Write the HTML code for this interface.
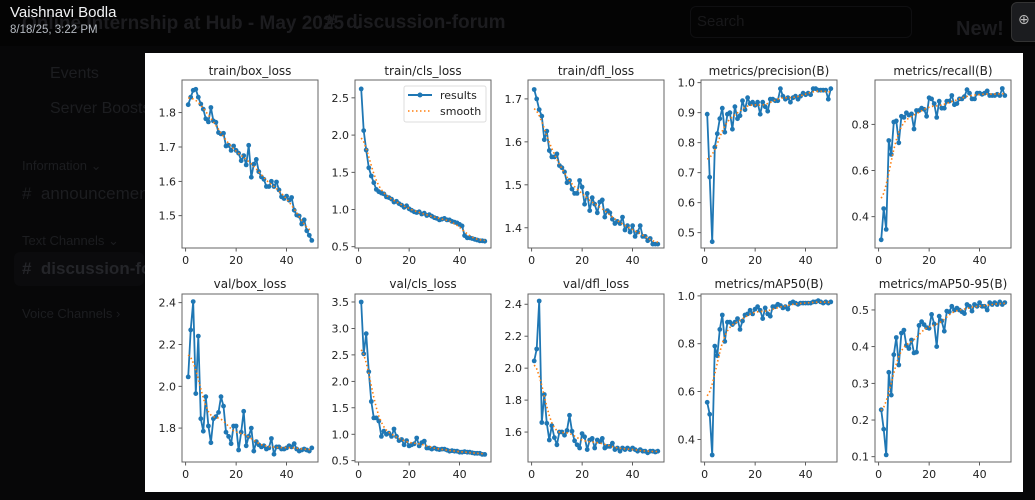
<!DOCTYPE html>
<html><head><meta charset="utf-8"><style>
html,body{margin:0;padding:0;width:1035px;height:500px;overflow:hidden;background:#070708;font-family:"Liberation Sans","DejaVu Sans",sans-serif;}
.abs{position:absolute;white-space:nowrap}
.f{color:#1c1d20}
</style></head><body>
<div class="abs" style="left:0;top:0;width:1035px;height:46px;background:#040404"></div>
<div class="abs f" style="left:22px;top:12px;font-size:19px;font-weight:bold;color:#1c1c1f">Online Internship at Hub - May 2025 ⌄</div>
<div class="abs f" style="left:325px;top:12px;font-size:19px;font-weight:bold;color:#1c1c1f"># &nbsp;discussion-forum</div>
<div class="abs f" style="left:697px;top:13px;font-size:15px;color:#18181a">Search</div>
<div class="abs" style="left:690px;top:6px;width:220px;height:30px;border:1px solid #0f0f11;border-radius:6px"></div>
<div class="abs f" style="left:956px;top:18px;font-size:20px;font-weight:bold;color:#1c1c1f">New!</div>
<div class="abs" style="left:1011px;top:2px;width:30px;height:38px;background:#1b1c1f;border:1px solid #333;border-radius:6px"></div>
<div class="abs" style="left:1018px;top:11px;color:#bbb;font-size:14px">⊕</div>
<div class="abs f" style="left:50px;top:65px;font-size:16px">Events</div>
<div class="abs f" style="left:50px;top:100px;font-size:16px">Server Boosts</div>
<div class="abs f" style="left:22px;top:158px;font-size:13px">Information ⌄</div>
<div class="abs f" style="left:22px;top:184px;font-size:17px">#&nbsp; announcements</div>
<div class="abs f" style="left:22px;top:233px;font-size:13px">Text Channels ⌄</div>
<div class="abs" style="left:14px;top:252px;width:130px;height:34px;background:#0b0b0d;border-radius:6px"></div>
<div class="abs f" style="left:22px;top:259px;font-size:17px;font-weight:bold;color:#242529">#&nbsp; discussion-forum</div>
<div class="abs f" style="left:22px;top:306px;font-size:13px">Voice Channels ›</div>
<div class="abs" style="left:10px;top:4px;font-size:15px;color:#f2f3f5">Vaishnavi Bodla</div>
<div class="abs" style="left:10px;top:24px;font-size:11.5px;color:#b5bac1">8/18/25, 3:22 PM</div>
<div class="abs" style="left:145px;top:53px;width:878px;height:439px;background:#fff"></div>
<svg class="abs" style="left:0;top:0" width="1035" height="500" id="s" font-family="DejaVu Sans, Liberation Sans, sans-serif">
<g font-size="12" fill="#222" text-anchor="middle">
<text x="250" y="75">train/box_loss</text>
<text x="423" y="75">train/cls_loss</text>
<text x="596" y="75">train/dfl_loss</text>
<text x="769" y="75">metrics/precision(B)</text>
<text x="943" y="75">metrics/recall(B)</text>
<text x="250" y="288">val/box_loss</text>
<text x="423" y="288">val/cls_loss</text>
<text x="596" y="288">val/dfl_loss</text>
<text x="769" y="288">metrics/mAP50(B)</text>
<text x="943" y="288">metrics/mAP50-95(B)</text>
</g>
<g id="g"></g>
<g font-size="11" fill="#222">
<rect x="404" y="86" width="82" height="36" fill="#fff" stroke="#ddd" rx="2"/>
<line x1="408" y1="95" x2="432" y2="95" stroke="#1f77b4" stroke-width="2"/><circle cx="420" cy="95" r="2.5" fill="#1f77b4"/>
<line x1="408" y1="111" x2="432" y2="111" stroke="#ff7f0e" stroke-width="1.6" stroke-dasharray="1.5,2.5"/>
<text x="440" y="99">results</text><text x="440" y="115">smooth</text>
</g>
</svg>
<script>
var P=[
{x:182,y:80,mn:1.406,mx:1.895,t:[[1.8,"1.8"],[1.7,"1.7"],[1.6,"1.6"],[1.5,"1.5"]],d:[1.823,1.845,1.865,1.868,1.845,1.825,1.81,1.782,1.773,1.815,1.776,1.772,1.742,1.738,1.74,1.703,1.705,1.69,1.703,1.69,1.682,1.66,1.675,1.648,1.705,1.612,1.65,1.664,1.628,1.613,1.606,1.585,1.585,1.6,1.585,1.598,1.575,1.555,1.55,1.557,1.545,1.553,1.516,1.502,1.499,1.476,1.488,1.456,1.443,1.428]},
{x:355,y:80,mn:0.483,mx:2.74,t:[[2.5,"2.5"],[2.0,"2.0"],[1.5,"1.5"],[1.0,"1.0"],[0.5,"0.5"]],d:[2.62,2.06,1.8,1.56,1.45,1.36,1.27,1.24,1.22,1.21,1.17,1.16,1.14,1.1,1.11,1.08,1.06,1.03,1.05,1.01,0.99,0.97,0.96,0.97,0.94,0.95,0.92,0.93,0.91,0.89,0.88,0.86,0.87,0.88,0.86,0.86,0.84,0.83,0.82,0.80,0.78,0.65,0.62,0.62,0.61,0.6,0.59,0.58,0.58,0.575]},
{x:528,y:80,mn:1.353,mx:1.744,t:[[1.7,"1.7"],[1.6,"1.6"],[1.5,"1.5"],[1.4,"1.4"]],d:[1.722,1.70,1.675,1.66,1.605,1.625,1.58,1.565,1.565,1.572,1.545,1.54,1.53,1.505,1.51,1.49,1.48,1.48,1.51,1.495,1.455,1.48,1.44,1.47,1.455,1.435,1.46,1.465,1.425,1.44,1.435,1.42,1.41,1.415,1.41,1.425,1.395,1.405,1.39,1.405,1.38,1.39,1.405,1.38,1.38,1.37,1.375,1.362,1.362,1.362]},
{x:701,y:80,mn:0.449,mx:1.009,t:[[1.0,"1.0"],[0.9,"0.9"],[0.8,"0.8"],[0.7,"0.7"],[0.6,"0.6"],[0.5,"0.5"]],d:[0.895,0.685,0.47,0.785,0.83,0.88,0.915,0.835,0.895,0.9,0.845,0.92,0.88,0.89,0.94,0.91,0.95,0.93,0.935,0.925,0.935,0.895,0.935,0.92,0.905,0.945,0.945,0.94,0.94,0.98,0.955,0.945,0.95,0.935,0.95,0.955,0.945,0.955,0.965,0.96,0.965,0.96,0.98,0.98,0.975,0.975,0.975,0.975,0.945,0.98]},
{x:875,y:80,mn:0.2645,mx:0.992,t:[[0.8,"0.8"],[0.6,"0.6"],[0.4,"0.4"]],d:[0.30,0.435,0.345,0.73,0.67,0.81,0.815,0.72,0.835,0.83,0.85,0.84,0.845,0.78,0.86,0.86,0.87,0.865,0.835,0.915,0.91,0.89,0.83,0.9,0.87,0.87,0.9,0.9,0.925,0.885,0.89,0.91,0.91,0.92,0.95,0.935,0.91,0.91,0.935,0.935,0.93,0.935,0.945,0.925,0.925,0.925,0.93,0.925,0.955,0.925]},
{x:182,y:294,mn:1.6376,mx:2.4416,t:[[2.4,"2.4"],[2.2,"2.2"],[2.0,"2.0"],[1.8,"1.8"]],d:[2.045,2.27,2.405,1.965,2.24,1.845,1.785,1.95,1.81,1.73,1.845,1.855,1.875,1.95,1.905,1.78,1.76,1.725,1.81,1.81,1.695,1.78,1.88,1.715,1.76,1.8,1.69,1.735,1.72,1.71,1.715,1.7,1.705,1.75,1.675,1.71,1.71,1.7,1.7,1.705,1.715,1.71,1.725,1.7,1.69,1.695,1.7,1.695,1.69,1.705]},
{x:355,y:294,mn:0.4755,mx:3.651,t:[[3.5,"3.5"],[3.0,"3.0"],[2.5,"2.5"],[2.0,"2.0"],[1.5,"1.5"],[1.0,"1.0"],[0.5,"0.5"]],d:[3.5,2.52,2.9,2.18,1.62,1.31,1.31,1.25,0.96,1.06,1.0,1.02,0.96,1.1,0.96,0.88,0.9,0.8,0.88,0.78,0.8,0.82,0.93,0.78,0.84,0.87,0.74,0.74,0.72,0.74,0.72,0.71,0.72,0.72,0.70,0.68,0.69,0.68,0.68,0.66,0.66,0.67,0.66,0.66,0.65,0.64,0.64,0.64,0.62,0.62]},
{x:528,y:294,mn:1.4125,mx:2.464,t:[[2.4,"2.4"],[2.2,"2.2"],[2.0,"2.0"],[1.8,"1.8"],[1.6,"1.6"]],d:[2.045,2.12,2.42,1.66,1.835,1.655,1.55,1.64,1.565,1.52,1.6,1.6,1.58,1.61,1.705,1.605,1.545,1.52,1.5,1.59,1.57,1.49,1.55,1.56,1.5,1.55,1.54,1.56,1.5,1.51,1.51,1.53,1.49,1.5,1.48,1.5,1.49,1.5,1.49,1.5,1.49,1.48,1.49,1.48,1.48,1.47,1.48,1.48,1.475,1.48]},
{x:701,y:294,mn:0.3056,mx:1.008,t:[[1.0,"1.0"],[0.8,"0.8"],[0.6,"0.6"],[0.4,"0.4"]],d:[0.555,0.505,0.335,0.79,0.75,0.86,0.92,0.81,0.89,0.89,0.88,0.89,0.905,0.86,0.895,0.92,0.925,0.94,0.925,0.945,0.955,0.94,0.905,0.95,0.925,0.915,0.955,0.955,0.965,0.96,0.95,0.955,0.945,0.97,0.975,0.97,0.965,0.97,0.97,0.97,0.97,0.97,0.975,0.975,0.98,0.975,0.97,0.975,0.97,0.975]},
{x:875,y:294,mn:0.0856,mx:0.5435,t:[[0.5,"0.5"],[0.4,"0.4"],[0.3,"0.3"],[0.2,"0.2"],[0.1,"0.1"]],d:[0.228,0.175,0.105,0.33,0.268,0.378,0.425,0.35,0.437,0.445,0.403,0.395,0.418,0.383,0.385,0.458,0.468,0.46,0.452,0.45,0.488,0.462,0.4,0.483,0.47,0.442,0.497,0.495,0.51,0.5,0.505,0.5,0.495,0.49,0.515,0.51,0.497,0.515,0.51,0.52,0.51,0.51,0.5,0.52,0.515,0.52,0.515,0.522,0.515,0.52]}
];
var XL=["0","20","40"];
function smooth(a){var s=3,r=12,k=[],o=[],i,j;for(j=-r;j<=r;j++)k.push(Math.exp(-j*j/(2*s*s)));
var n=a.length;for(i=0;i<n;i++){var t=0,w=0;for(j=-r;j<=r;j++){var q=i+j;if(q<0)q=-q-1;if(q>=n)q=2*n-q-1;t+=a[q]*k[j+r];w+=k[j+r];}o.push(t/w);}return o;}
var h="",W=136,H=168;
P.forEach(function(p){
 var X=function(v){return p.x+(v+1.45)*W/53.9;},Y=function(v){return p.y+(p.mx-v)/(p.mx-p.mn)*H;};
 p.t.forEach(function(t){var y=Y(t[0]);h+='<line x1="'+(p.x-3.5)+'" y1="'+y+'" x2="'+p.x+'" y2="'+y+'" stroke="#333" stroke-width="0.8"/><text x="'+(p.x-6)+'" y="'+(y+4)+'" font-size="11" fill="#222" text-anchor="end">'+t[1]+'</text>';});
 [0,20,40].forEach(function(v,i){var x=X(v);h+='<line x1="'+x+'" y1="'+(p.y+H)+'" x2="'+x+'" y2="'+(p.y+H+3.5)+'" stroke="#333" stroke-width="0.8"/><text x="'+x+'" y="'+(p.y+H+16)+'" font-size="11" fill="#222" text-anchor="middle">'+XL[i]+'</text>';});
 var pts=p.d.map(function(v,i){return X(i+1).toFixed(1)+","+Y(v).toFixed(1);});
 h+='<polyline points="'+pts.join(" ")+'" fill="none" stroke="#1f77b4" stroke-width="1.8" stroke-linejoin="round"/>';
 pts.forEach(function(q){var c=q.split(",");h+='<circle cx="'+c[0]+'" cy="'+c[1]+'" r="2.4" fill="#1f77b4"/>';});
 var sm=smooth(p.d).map(function(v,i){return X(i+1).toFixed(1)+","+Y(v).toFixed(1);});
 h+='<polyline points="'+sm.join(" ")+'" fill="none" stroke="#ff7f0e" stroke-width="1.6" stroke-dasharray="1.5,2.5"/>';
 h+='<rect x="'+p.x+'" y="'+p.y+'" width="'+W+'" height="'+H+'" fill="none" stroke="#666" stroke-width="1"/>';
});
document.getElementById("g").innerHTML=h;
</script>
</body></html>
